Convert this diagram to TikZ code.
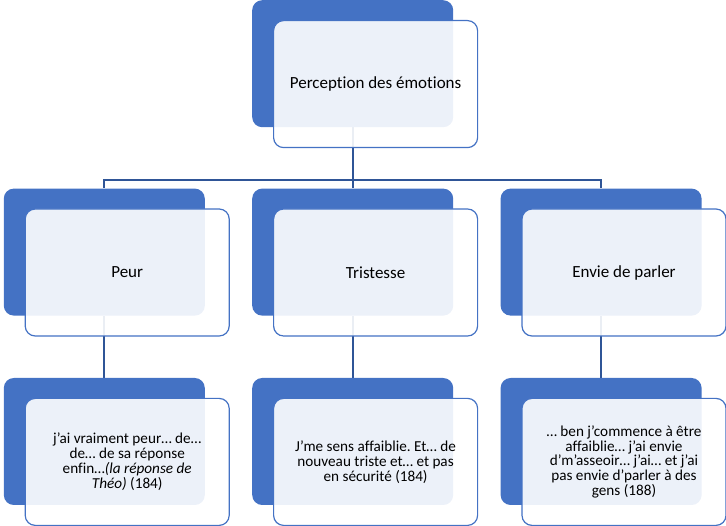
\documentclass[tikz,border=0pt]{standalone}
\usepackage{fontspec}
\setmainfont{Carlito}[Ligatures={NoCommon}]
\usetikzlibrary{positioning,backgrounds}
\definecolor{smartblue}{HTML}{4472C4}
\definecolor{linkblue}{HTML}{2F5597}
\frenchspacing

\begin{document}
\begin{tikzpicture}[
  x=1pt,y=1pt,
  back/.style={fill=smartblue,rounded corners=10pt,minimum width=201pt,minimum height=127pt,inner sep=0pt},
  front/.style={draw=smartblue,line width=1.2pt,fill=white,fill opacity=0.9,text opacity=1,rounded corners=10pt,minimum width=204pt,minimum height=127pt,align=center,anchor=north west,font=\fontsize{17}{20}\selectfont,inner sep=4pt},
  quote/.style={front,font=\fontsize{15.2}{14.9}\selectfont},
  link/.style={draw=linkblue,line width=1.8pt}
]
\useasboundingbox (0,0) rectangle (726,-526);
\node[back,anchor=north west] (b0) at (252,0) {};
\node[back,below=61pt of b0] (b2) {};
\node[back,left=47pt of b2] (b1) {};
\node[back,right=47pt of b2] (b3) {};
\node[back,below=62pt of b1] (c1) {};
\node[back,below=62pt of b2] (c2) {};
\node[back,below=62pt of b3] (c3) {};
\begin{scope}[on background layer]
\draw[link] (b0.south) -- ++(0,-53) -| (b1.north);
\draw[link] (b0.south) -- (b2.north);
\draw[link] (b0.south) -- ++(0,-53) -| (b3.north);
\foreach \i in {1,2,3} \draw[link] (b\i.south) -- (c\i.north);
\end{scope}
\node[front] (f0) at ([shift={(21,-20)}]b0.north west) {Perception des émotions};
\foreach \i/\t in {1/Peur,2/Tristesse,3/Envie de parler}
  \node[front] (f\i) at ([shift={(21,-20)}]b\i.north west) {\t};
\node[quote] (q1) at ([shift={(21,-20)}]c1.north west)
  {j’ai vraiment peur… de…\\de… de sa réponse\\enfin…\textit{(la réponse de}\\\textit{Théo)} (184)};
\node[quote] (q2) at ([shift={(21,-20)}]c2.north west)
  {J’me sens affaiblie. Et… de\\nouveau triste et… et pas\\en sécurité (184)};
\node[quote] (q3) at ([shift={(21,-20)}]c3.north west)
  {… ben j’commence à être\\affaiblie… j’ai envie\\d’m’asseoir… j’ai… et j’ai\\pas envie d’parler à des\\gens (188)};
\end{tikzpicture}
\end{document}
